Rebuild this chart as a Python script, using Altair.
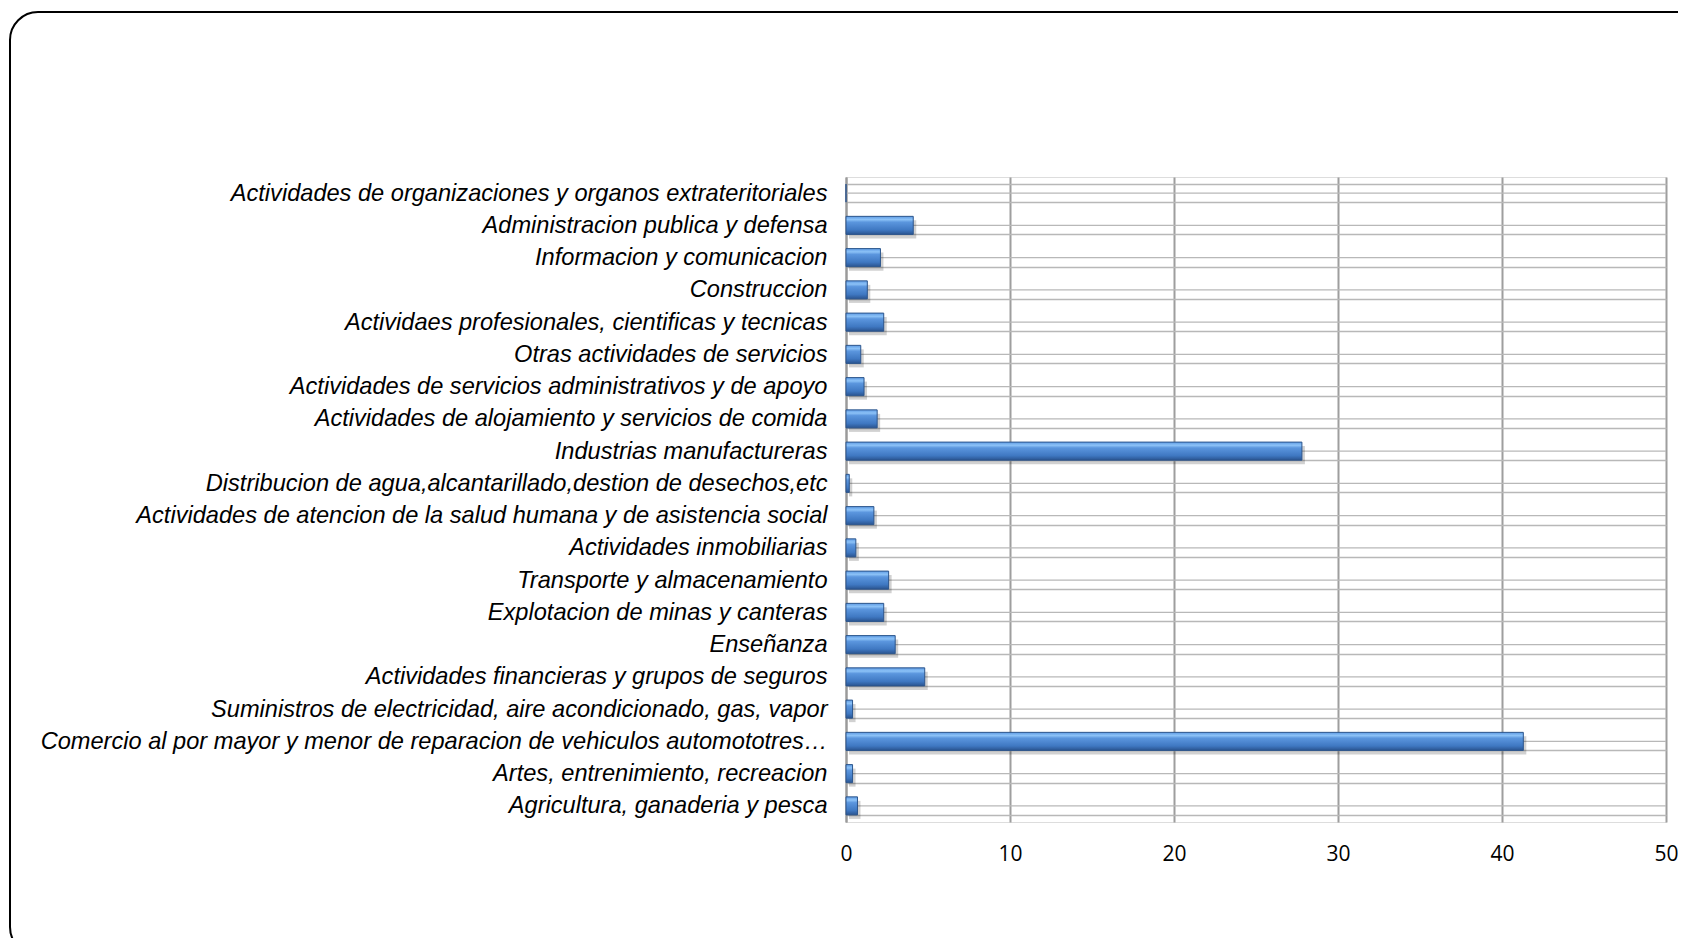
import altair as alt
import pandas as pd

categories = [
    "Actividades de organizaciones y organos extrateritoriales",
    "Administracion publica y defensa",
    "Informacion y comunicacion",
    "Construccion",
    "Actividaes profesionales, cientificas y tecnicas",
    "Otras actividades de servicios",
    "Actividades de servicios administrativos y de apoyo",
    "Actividades de alojamiento y servicios de comida",
    "Industrias manufactureras",
    "Distribucion de agua,alcantarillado,destion de desechos,etc",
    "Actividades de atencion de la salud humana y de asistencia social",
    "Actividades inmobiliarias",
    "Transporte y almacenamiento",
    "Explotacion de minas y canteras",
    "Enseñanza",
    "Actividades financieras y grupos de seguros",
    "Suministros de electricidad, aire acondicionado, gas, vapor",
    "Comercio al por mayor y menor de reparacion de vehiculos automototres…",
    "Artes, entrenimiento, recreacion",
    "Agricultura, ganaderia y pesca",
]
values = [0.0, 4.1, 2.1, 1.3, 2.3, 0.9, 1.1, 1.9, 27.8, 0.2,
          1.7, 0.6, 2.6, 2.3, 3.0, 4.8, 0.4, 41.3, 0.4, 0.7]
x_ticks = [0, 10, 20, 30, 40, 50]

W, H = 820, 645

df = pd.DataFrame({"cat": categories, "val": values})

yscale = alt.Scale(domain=categories, paddingInner=0.44, paddingOuter=0.22)
y_enc = alt.Y(
    "cat:N", sort=categories, scale=yscale, title=None,
    axis=alt.Axis(
        labelFont="Liberation Sans", labelFontStyle="italic", labelFontSize=23.6,
        labelColor="#000000", labelLimit=0, labelPadding=19, ticks=False,
        domain=True, domainColor="#9a9a9a", domainWidth=2,
        grid=True, gridColor="#b8b8b8", gridWidth=1.4, tickBand="extent",
    ),
)
x_enc = alt.X(
    "val:Q", scale=alt.Scale(domain=[0, 50], nice=False), title=None,
    axis=alt.Axis(
        values=x_ticks, labelFont="Open Sans", labelFontSize=21, labelColor="#000000",
        labelPadding=21, labelFlush=False, ticks=False, domain=False, grid=True,
        gridColor="#9e9e9e", gridWidth=2,
    ),
)

base = alt.Chart(df)

center_rules = base.mark_rule(color="#b8b8b8", strokeWidth=1.4).encode(
    y=y_enc, x=alt.value(0), x2=alt.value(W)
)

shadow = base.mark_bar(color="#000000", opacity=0.18, xOffset=3, yOffset=4).encode(
    y=y_enc, x=x_enc
)

bars = base.mark_bar(
    color=alt.Gradient(
        gradient="linear", x1=0, x2=0, y1=0, y2=1,
        stops=[
            alt.GradientStop(offset=0, color="#5e9be4"),
            alt.GradientStop(offset=0.18, color="#8cc2f7"),
            alt.GradientStop(offset=0.32, color="#5b96de"),
            alt.GradientStop(offset=0.75, color="#3f78c2"),
            alt.GradientStop(offset=1, color="#2a5490"),
        ],
    ),
    stroke="#2c558c", strokeWidth=1,
).encode(y=y_enc, x=x_enc)

frame = alt.Chart(alt.Data(values=[{"f": 1}])).mark_rect(
    fill=None, stroke="#000000", strokeWidth=2, cornerRadius=28
).encode(
    x=alt.value(-836), x2=alt.value(870), y=alt.value(-165), y2=alt.value(778)
)

chart = alt.layer(center_rules, shadow, bars, frame).properties(
    width=W, height=H,
    autosize=alt.AutoSizeParams(type="none"),
    padding={"left": 838, "top": 169, "right": 12, "bottom": 116},
).configure_view(stroke=None).configure(background="#ffffff")

chart.save("out.html", embed_options={"renderer": "svg", "actions": False})
